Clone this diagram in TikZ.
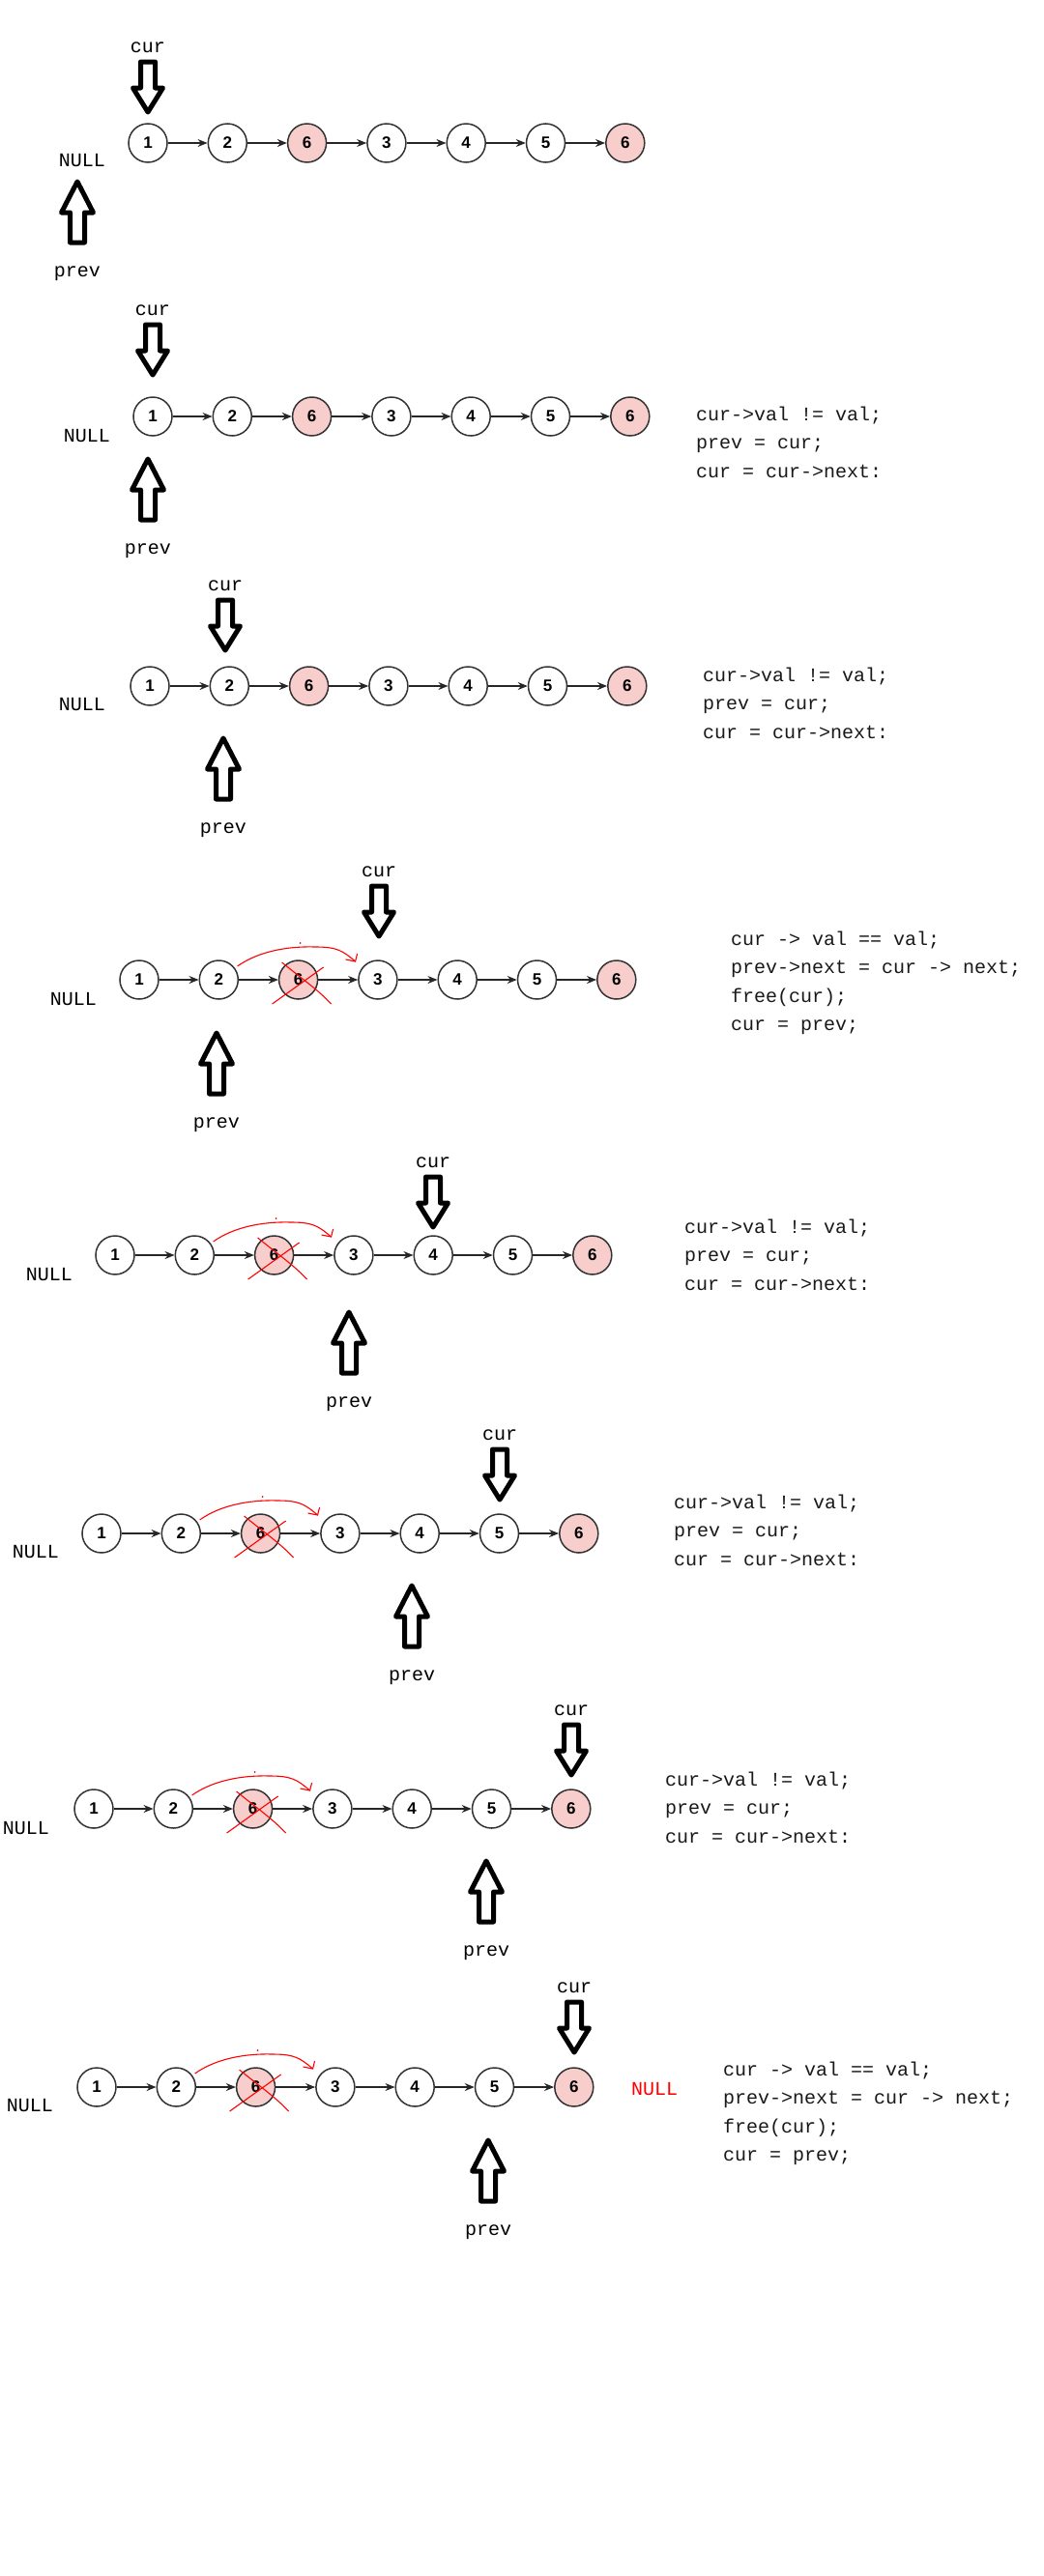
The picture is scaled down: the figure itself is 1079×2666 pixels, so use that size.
\documentclass[tikz,border=0pt]{standalone}
\usepackage{fontspec}
\usetikzlibrary{arrows.meta}
\newfontfamily\simfont{Liberation Mono}
\newfontfamily\numfont{Liberation Sans}
\definecolor{delpink}{HTML}{F8CECC}
\definecolor{nodeline}{HTML}{333333}
\tikzset{
  lnode/.style={circle,draw=nodeline,line width=1.5pt,fill=white,minimum size=40pt,inner sep=0pt,
    font=\numfont\bfseries\fontsize{17}{17}\selectfont},
  dnode/.style={lnode,fill=delpink},
  link/.style={-{Stealth[length=10pt,width=8pt]},line width=1.3pt,black!85},
  lbl/.style={font=\simfont\fontsize{20}{20}\selectfont,inner sep=0pt,text height=14pt,text depth=4pt},
  codeline/.style={lbl,anchor=west,text=black!90},
  hollow/.style={draw=black,line width=5pt,fill=white,line join=round},
  redpen/.style={red,line width=1.1pt},
  curarr/.pic={\path[hollow] (-7.5,-55) -- (7.5,-55) -- (7.5,-28) -- (15.5,-28) -- (0,-3)
    -- (-15.5,-28) -- (-7.5,-28) -- cycle;},
  prevarr/.pic={\path[hollow] (0,3) -- (16.5,35) -- (7.5,35) -- (7.5,66) -- (-7.5,66)
    -- (-7.5,35) -- (-16.5,35) -- cycle;},
}
\begin{document}
\begin{tikzpicture}[x=1pt,y=-1pt]
  \path[fill=white,use as bounding box] (0,0) rectangle (1079,2666);
  % 链表
  \foreach \p/\xa/\ya in {1/153/148, 2/158/431, 3/155/710, 4/144/1014, 5/119/1299, 6/105/1587, 7/97/1872, 8/100/2160} {
    \foreach \i/\v/\s in {1/1/lnode, 2/2/lnode, 3/6/dnode, 4/3/lnode, 5/4/lnode, 6/5/lnode, 7/6/dnode}
      \node[\s] (p\p n\i) at (\xa+82.3*\i-82.3,\ya) {\v};
    \foreach \i [count=\j from 2] in {1,...,6}
      \draw[link] (p\p n\i) -- (p\p n\j);
  }
  % cur / prev 指针
  \foreach \p/\cx/\ct/\px/\pt/\nx/\ny in {1/153/119/80/185/85/167, 2/158/391/153/472/90/452,
      3/233/676/231/761/85/730, 4/392/972/224/1066/76/1035, 5/448/1273/361/1355/51/1320,
      6/517/1555/426/1638/37/1607, 7/591/1840/503/1923/27/1893, 8/594/2127/505/2212/31/2180} {
    \pic at (\cx,\ct) {curarr};
    \node[lbl] (cur\p) at (\cx,\ct-70) {cur};
    \pic at (\px,\pt) {prevarr};
    \node[lbl] (prev\p) at (\px,\pt+96) {prev};
    \node[lbl] (null\p) at (\nx,\ny) {NULL};
  }
  \node[lbl,red] (nullend) at (677,2163) {NULL};
  % 删除节点 6
  \foreach \p in {4,...,8} {
    \begin{scope}[shift={(p\p n3)}]
      \draw[redpen] (-63,-14) .. controls (-42,-29) and (-12,-35) .. (18,-34)
        .. controls (40,-34) and (46,-30) .. (59,-19);
      \draw[redpen] (49,-21) -- (59,-19) -- (61,-27);
      \fill[red] (2,-38) circle (1);
      \draw[redpen] (-27,25) -- (26,-13);
      \draw[redpen] (-17,-18) .. controls (5,0) and (20,10) .. (34,25);
    \end{scope}
  }
  % 代码
  \foreach \p/\cx/\cy in {2/720/430, 3/727/700, 5/708/1271, 6/697/1556, 7/688/1843}
    \foreach \t [count=\k from 0] in {cur->val != val;, prev = cur;, cur = cur->next:}
      \node[codeline] (code\p-\k) at (\cx,\cy+29.5*\k) {\t};
  \foreach \p/\cx/\cy in {4/756/973, 8/748/2143}
    \foreach \t [count=\k from 0] in {cur -> val == val;, prev->next = cur -> next;, free(cur);, cur = prev;}
      \node[codeline] (code\p-\k) at (\cx,\cy+29.5*\k) {\t};
\end{tikzpicture}
\end{document}
